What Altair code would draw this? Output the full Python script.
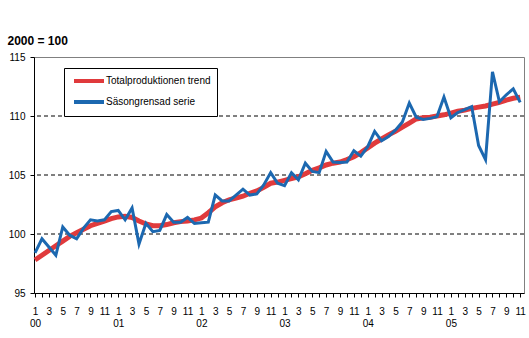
import altair as alt
import pandas as pd

SERIES = ["Totalproduktionen trend", "Säsongrensad serie"]
COLORS = ["#E03A3C", "#1C68B0"]

TREND = [97.8, 98.2, 98.6, 99.0, 99.4, 99.8, 100.1, 100.4, 100.7, 100.9, 101.1, 101.3,
         101.45, 101.5, 101.4, 101.1, 100.85, 100.7, 100.7, 100.8, 100.95, 101.05, 101.1, 101.2,
         101.35, 101.8, 102.3, 102.65, 102.9, 103.05, 103.2, 103.45, 103.65, 103.95, 104.3, 104.4,
         104.55, 104.7, 104.85, 105.1, 105.4, 105.6, 105.85, 106.0, 106.1, 106.3, 106.55, 106.9,
         107.3, 107.7, 108.05, 108.4, 108.7, 109.05, 109.4, 109.75, 109.85, 109.9, 110.0, 110.1,
         110.25, 110.4, 110.5, 110.65, 110.75, 110.85, 111.0, 111.15, 111.35, 111.5, 111.6]

SEASONAL = [98.4, 99.6, 98.9, 98.2, 100.6, 99.9, 99.6, 100.5, 101.2, 101.1, 101.2, 101.9,
            102.0, 101.2, 102.2, 99.15, 100.9, 100.2, 100.3, 101.65, 101.0, 101.0, 101.4, 100.9,
            100.95, 101.0, 103.3, 102.8, 102.8, 103.3, 103.8, 103.3, 103.4, 104.15, 105.2, 104.3,
            104.1, 105.2, 104.6, 106.0, 105.3, 105.2, 107.0, 106.1, 106.05, 106.1, 107.05, 106.6,
            107.4, 108.7, 107.9, 108.25, 108.8, 109.5, 111.1, 109.9, 109.7, 109.8, 109.95, 111.6,
            109.85, 110.3, 110.55, 110.8, 107.5, 106.3, 113.75, 111.2, 111.8, 112.3, 111.15]

GRID = [100, 105, 110]
Y_TICKS = [95, 100, 105, 110, 115]

n = len(TREND)
trend_df = pd.DataFrame({"t": list(range(n)), "v": TREND, "s": SERIES[0]})
seas_df = pd.DataFrame({"t": list(range(n)), "v": SEASONAL, "s": SERIES[1]})

FONT = "Liberation Sans"

label_expr = ("datum.value % 2 == 0 ? (datum.value % 12 == 0 ? "
              "['1', '0' + floor(datum.value / 12)] : '' + (datum.value % 12 + 1)) : ''")

x_enc = alt.X("t:Q",
              scale=alt.Scale(domain=[-0.15, 70.55], nice=False, zero=False),
              axis=alt.Axis(values=list(range(n)), labelExpr=label_expr, title=None,
                            grid=False, tickSize=4, tickColor="black", domainColor="black",
                            labelFont=FONT, labelFontSize=10, labelColor="black",
                            labelPadding=9, labelLineHeight=12, labelOverlap=False,
                            labelBound=False, labelFlush=False))

y_enc = alt.Y("v:Q",
              scale=alt.Scale(domain=[95, 115], nice=False, zero=False),
              axis=alt.Axis(values=Y_TICKS, grid=False, tickSize=4, tickColor="black",
                            domainColor="black", labelFont=FONT, labelFontSize=10,
                            labelColor="black", labelPadding=5,
                            title="2000 = 100", titleAngle=0, titleX=-27, titleY=-13,
                            titleAlign="left", titleBaseline="alphabetic",
                            titleFont=FONT, titleFontSize=12, titleFontWeight="bold",
                            titleColor="black"))

color_scale = alt.Scale(domain=SERIES, range=COLORS)
legend = alt.Legend(title=None, orient="none", legendX=30, legendY=11,
                    strokeColor="black", fillColor="white", padding=6,
                    symbolType="M-0.6,0L5.4,0", symbolSize=100, symbolStrokeWidth=4,
                    labelFont=FONT, labelFontSize=10, labelColor="black",
                    labelOffset=22, rowPadding=5)

grid = alt.Chart(pd.DataFrame({"g": GRID})).mark_rule(
    color="black", strokeWidth=1, strokeDash=[4, 3]).encode(y=alt.Y("g:Q"))

trend = alt.Chart(trend_df).mark_line(strokeWidth=5).encode(
    x=x_enc, y=y_enc, color=alt.Color("s:N", scale=color_scale, legend=legend))

seas = alt.Chart(seas_df).mark_line(strokeWidth=3).encode(
    x=x_enc, y=y_enc, color=alt.Color("s:N", scale=color_scale, legend=legend))

chart = alt.layer(grid, trend, seas).properties(
    width=490, height=236,
    padding={"left": 34, "top": 57, "right": 5, "bottom": 45},
    autosize=alt.AutoSizeParams(type="none"),
    background="white",
).configure_view(stroke="#808080", strokeWidth=1)

chart.save("out.html", embed_options={"renderer": "svg", "actions": False})
